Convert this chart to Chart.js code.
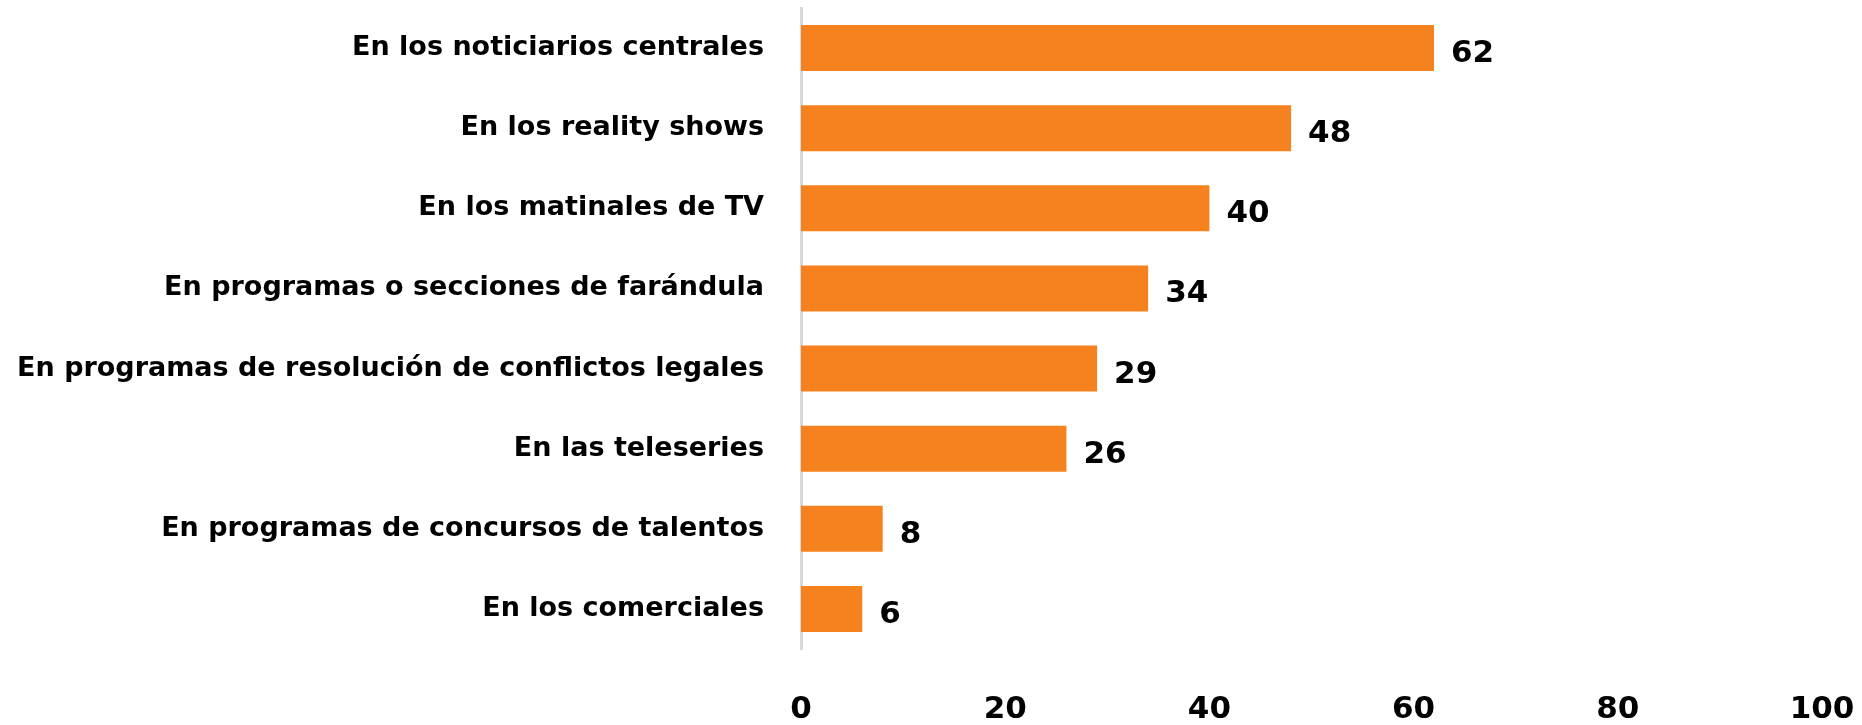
<!DOCTYPE html>
<html>
<head>
<meta charset="utf-8">
<script src="https://cdn.jsdelivr.net/npm/chart.js@4"></script>
<style>
  html, body { margin: 0; padding: 0; background: #fff; }
  #wrap { width: 1862px; height: 725px; }
</style>
</head>
<body>
<div id="wrap"><canvas id="chart"></canvas></div>
<script>
const categories = [
  'En los noticiarios centrales',
  'En los reality shows',
  'En los matinales de TV',
  'En programas o secciones de farándula',
  'En programas de resolución de conflictos legales',
  'En las teleseries',
  'En programas de concursos de talentos',
  'En los comerciales'
];
const values = [62, 48, 40, 34, 29, 26, 8, 6];
const xTicks = [0, 20, 40, 60, 80, 100];

const FONT = '"DejaVu Sans", "Noto Sans", sans-serif';

// etiquetas de valor al final de cada barra
const valueLabels = {
  id: 'valueLabels',
  afterDatasetsDraw(chart) {
    const { ctx } = chart;
    const meta = chart.getDatasetMeta(0);
    ctx.save();
    ctx.font = 'bold 31px ' + FONT;
    ctx.fillStyle = '#000';
    ctx.textAlign = 'left';
    ctx.textBaseline = 'middle';
    meta.data.forEach((bar, i) => {
      ctx.fillText(String(values[i]), bar.x + 17, bar.y + 6);
    });
    ctx.restore();
  }
};

new Chart(document.getElementById('chart'), {
  type: 'bar',
  data: {
    labels: categories,
    datasets: [{
      data: values,
      backgroundColor: '#F5821F',
      borderWidth: 0,
      barPercentage: 0.575,
      categoryPercentage: 1
    }]
  },
  options: {
    indexAxis: 'y',
    responsive: true,
    maintainAspectRatio: false,
    animation: false,
    layout: { padding: { top: 8, right: 40, left: 0, bottom: 0 } },
    plugins: {
      legend: { display: false },
      tooltip: { enabled: false }
    },
    scales: {
      x: {
        min: 0,
        max: 100,
        afterBuildTicks(scale) {
          scale.ticks = xTicks.map(v => ({ value: v }));
        },
        afterFit(scale) {
          scale.height = 76;
          scale.paddingLeft = 0;
          scale.paddingRight = 0;
        },
        grid: { display: false, drawTicks: false },
        border: { display: false },
        ticks: {
          padding: 42,
          color: '#000',
          font: { family: FONT, size: 31, weight: 'bold' }
        }
      },
      y: {
        afterFit(scale) {
          scale.width = 801;
          scale.paddingTop = 0;
          scale.paddingBottom = 0;
        },
        grid: { display: false, drawTicks: false },
        border: { display: true, color: '#d9d9d9', width: 3 },
        ticks: {
          padding: 37,
          color: '#000',
          font: { family: FONT, size: 27, weight: 'bold' }
        }
      }
    }
  },
  plugins: [valueLabels]
});
</script>
</body>
</html>
